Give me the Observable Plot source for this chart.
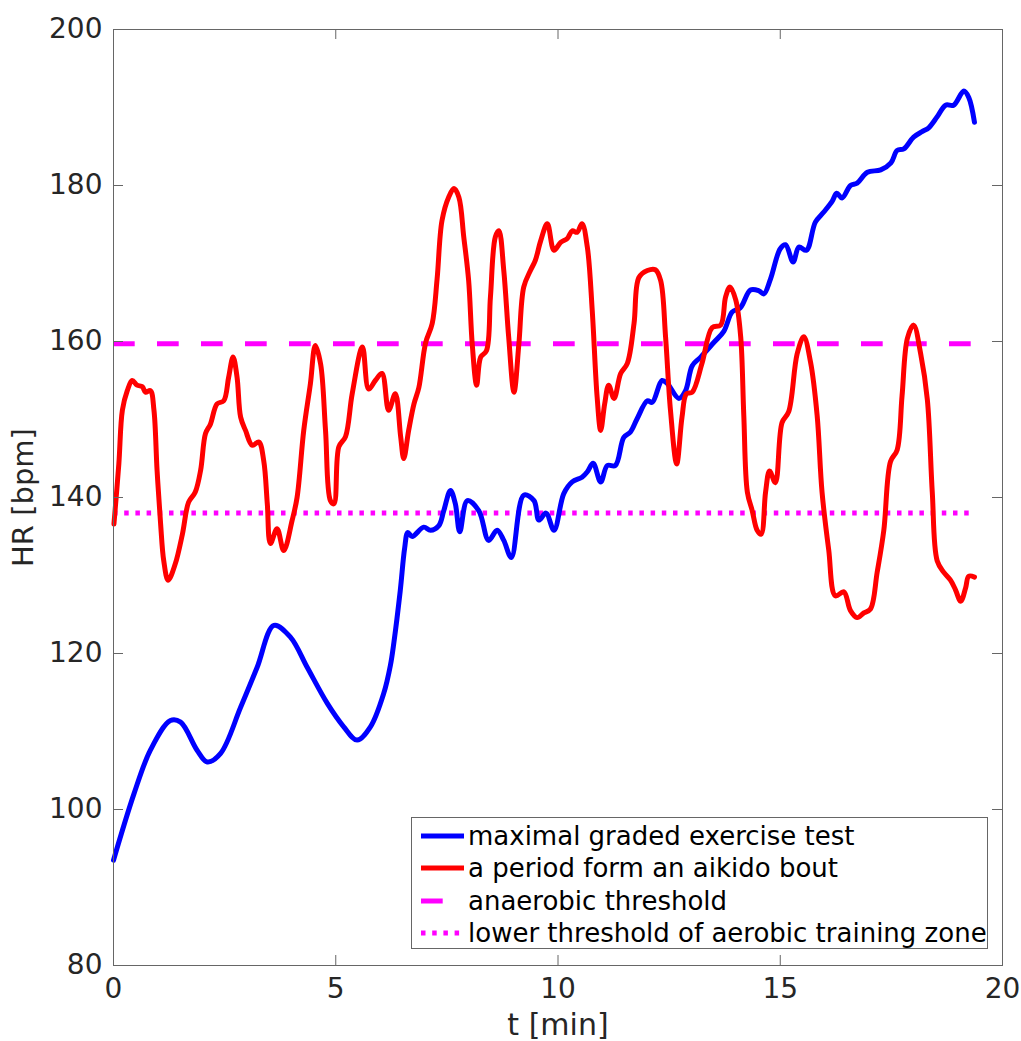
<!DOCTYPE html>
<html><head><meta charset="utf-8">
<script src="https://cdn.jsdelivr.net/npm/d3@7"></script>
<script src="https://cdn.jsdelivr.net/npm/@observablehq/plot@0.6"></script>
<style>
body{margin:0;background:#fff;font-family:"DejaVu Sans",sans-serif;}
#wrap{position:relative;width:1021px;height:1041px;}
#legend{position:absolute;left:411px;top:817px;width:577px;height:132px;border:1px solid #666;background:#fff;box-sizing:border-box;font-size:26px;color:#000;}
.row{position:absolute;left:0;height:32px;display:flex;align-items:center;white-space:nowrap;}
.row svg{margin-left:9px;margin-right:4px;}
</style></head>
<body><div id="wrap"></div>
<script>
// ---- data ----
const seriesNames = ["maximal graded exercise test","a period form an aikido bout","anaerobic threshold","lower threshold of aerobic training zone"];
const blueT = [0.00,0.46,0.83,1.28,1.51,1.88,2.11,2.41,2.86,3.23,3.61,3.98,4.36,4.81,5.18,5.48,5.78,6.08,6.23,6.31,6.45,6.55,6.62,6.72,6.98,7.13,7.32,7.43,7.58,7.69,7.79,7.96,8.22,8.44,8.63,8.78,8.95,9.23,9.46,9.57,9.73,9.91,10.13,10.32,10.54,10.66,10.79,10.96,11.11,11.29,11.48,11.63,11.78,12.01,12.12,12.34,12.46,12.72,12.87,13.02,13.21,13.51,13.73,13.92,14.10,14.33,14.52,14.63,14.78,15.00,15.12,15.29,15.42,15.59,15.79,15.98,16.17,16.27,16.39,16.58,16.73,16.96,17.26,17.49,17.63,17.78,18.00,18.19,18.34,18.53,18.72,18.90,19.13,19.24,19.37];
const blueHR = [93.5,102,107.6,111.4,111.2,107.6,106.1,107.2,113.1,118.2,123.6,122.1,118.2,113.6,110.6,108.9,110.6,114.9,118.5,121.5,128,133.5,135.5,135.0,136.2,135.8,136.4,138.3,140.9,139.2,135.6,139.6,138.3,134.5,135.8,134.5,132.3,140.3,139.6,137.1,138.0,135.8,140.5,142.0,142.6,143.3,144.4,142.0,144.1,144.1,147.7,148.4,150.1,152.4,152.2,155.0,154.6,152.7,153.7,156.9,158.0,159.9,161.3,163.8,164.3,166.6,166.5,166.1,168.0,171.9,172.4,170.2,172.1,171.7,175.3,176.6,178.0,179.0,178.4,180.0,180.3,181.7,182.0,182.9,184.5,184.7,186.2,186.9,187.4,188.8,190.3,190.3,192.1,191.3,188.1];
const redT = [0.01,0.12,0.20,0.31,0.42,0.53,0.65,0.72,0.83,0.91,0.98,1.06,1.13,1.23,1.39,1.55,1.69,1.84,1.96,2.07,2.18,2.33,2.48,2.59,2.69,2.78,2.86,2.97,3.12,3.27,3.38,3.46,3.53,3.68,3.83,4.02,4.13,4.28,4.43,4.54,4.66,4.77,4.88,4.96,5.07,5.22,5.37,5.60,5.74,5.89,6.04,6.19,6.34,6.46,6.53,6.64,6.76,6.87,7.02,7.17,7.28,7.39,7.54,7.66,7.77,7.88,7.99,8.07,8.17,8.26,8.39,8.48,8.59,8.67,8.78,8.89,9.01,9.12,9.23,9.38,9.49,9.61,9.76,9.91,10.06,10.21,10.32,10.43,10.54,10.66,10.77,10.88,10.96,11.05,11.14,11.26,11.41,11.56,11.71,11.82,12.01,12.19,12.31,12.42,12.53,12.67,12.79,12.89,13.02,13.24,13.47,13.66,13.77,13.87,14.00,14.11,14.18,14.26,14.37,14.48,14.57,14.67,14.76,14.89,15.04,15.19,15.38,15.53,15.68,15.83,15.94,16.09,16.24,16.43,16.58,16.73,16.88,17.03,17.18,17.33,17.48,17.63,17.74,17.86,18.00,18.16,18.31,18.42,18.53,18.68,18.83,18.94,19.06,19.17,19.24,19.37];
const redHR = [136.6,144.3,151.2,153.7,155.0,154.4,154.2,153.5,153.7,151.2,143.5,136.6,131.9,129.4,131.5,135.3,139.4,140.7,143.5,148.2,149.4,152.0,152.4,155.4,158.0,155.4,150.3,148.6,146.7,147.1,144.7,139.2,134.1,136.0,133.2,137.1,140.0,148.6,154.6,159.5,157.1,148.6,139.6,139.2,146.5,147.8,153.3,159.3,153.9,155.0,155.9,151.2,153.3,147.8,145.0,148.6,152.0,154.1,159.8,162.3,168.0,175.5,178.5,179.6,178.5,173.4,167.8,159.7,154.4,158.0,158.8,165.7,173.4,174.2,169.1,160.6,153.5,159.7,167.0,169.1,170.4,172.9,175.1,171.7,172.7,173.2,174.2,174.0,175.1,172.1,164.0,152.9,148.6,152.0,154.4,152.7,155.9,157.2,162.3,168.2,169.1,169.2,167.8,160.6,151.2,144.3,150.3,153.3,153.5,157.2,161.8,162.1,165.7,167.0,165.3,160.6,150.5,140.7,138.3,135.8,135.3,140.7,143.4,141.9,149.6,151.0,158.4,160.6,157.4,150.5,140.7,133.3,127.4,127.9,125.5,124.6,125.2,125.7,130.4,135.8,144.6,146.1,153.0,160.4,162.1,158.4,152.5,140.7,131.9,130.4,129.4,128.2,126.7,128.4,129.9,129.8];
const anaerobicHR = 159.7;
const aerobicLowHR = 138.0;
const xTicks = [0,5,10,15,20];
const yTicks = [80,100,120,140,160,180,200];

// ---- chart ----
const blue = blueT.map((t,i)=>({t, hr: blueHR[i]}));
const red = redT.map((t,i)=>({t, hr: redHR[i]}));
const tEnd = Math.max(blueT[blueT.length-1], redT[redT.length-1]);
const W=1021,H=1041,mL=113,mR=19,mT=29,mB=76;
const pW=W-mL-mR, pH=H-mT-mB, tick=10, axisC="#666";

const chart = Plot.plot({
  width:W, height:H, marginLeft:mL, marginRight:mR, marginTop:mT, marginBottom:mB,
  style:{fontFamily:"DejaVu Sans", fontSize:"28px", color:"#262626", background:"white"},
  x:{domain:[0,20]}, y:{domain:[80,200]},
  marks:[
    Plot.ruleY([anaerobicHR], {y:d=>d, x1:0, x2:tEnd, stroke:"#ff00ff", strokeWidth:5, strokeDasharray:"21.7,22.3"}),
    Plot.ruleY([aerobicLowHR], {y:d=>d, x1:0, x2:tEnd, stroke:"#ff00ff", strokeWidth:5, strokeDasharray:"4.5,6.7"}),
    Plot.line(blue, {x:"t", y:"hr", stroke:"#0000ff", strokeWidth:5, curve:"catmull-rom"}),
    Plot.line(red, {x:"t", y:"hr", stroke:"#ff0000", strokeWidth:5, curve:"catmull-rom"}),
    Plot.tickX(xTicks, {x:d=>d, insetTop:pH-tick, stroke:axisC}),
    Plot.tickX(xTicks, {x:d=>d, insetBottom:pH-tick, stroke:axisC}),
    Plot.tickY(yTicks, {y:d=>d, insetRight:pW-tick, stroke:axisC}),
    Plot.tickY(yTicks, {y:d=>d, insetLeft:pW-tick, stroke:axisC}),
    Plot.frame({stroke:axisC, strokeWidth:1}),
    Plot.axisX({ticks:xTicks, tickSize:0, tickPadding:13, label:null, tickFormat:d=>String(d)}),
    Plot.axisY({ticks:yTicks, tickSize:0, tickPadding:11, label:null, tickFormat:d=>String(d)}),
    Plot.text(["t [min]"], {text:d=>d, frameAnchor:"bottom", dy:69, lineAnchor:"bottom", textAnchor:"middle", fontSize:30, fill:"#262626"}),
    Plot.text(["HR [bpm]"], {text:d=>d, frameAnchor:"left", dx:-81, rotate:-90, lineAnchor:"bottom", textAnchor:"middle", fontSize:29, fill:"#262626"})
  ]
});
const wrap = document.getElementById("wrap");
wrap.appendChild(chart);

// legend
const legend = document.createElement("div");
legend.id = "legend";
const sw = [
  {stroke:"#0000ff", dash:null},
  {stroke:"#ff0000", dash:null},
  {stroke:"#ff00ff", dash:"21.7,22.3"},
  {stroke:"#ff00ff", dash:"4.5,6.7"}
];
seriesNames.forEach((name,i)=>{
  const row = document.createElement("div");
  row.className = "row";
  row.style.top = (2 + i*32.3) + "px";
  const s = d3.create("svg").attr("width",43).attr("height",10);
  s.append("line").attr("x1",0).attr("x2",43).attr("y1",5).attr("y2",5)
    .attr("stroke",sw[i].stroke).attr("stroke-width",5)
    .attr("stroke-dasharray",sw[i].dash);
  row.appendChild(s.node());
  const sp = document.createElement("span");
  sp.textContent = name;
  row.appendChild(sp);
  legend.appendChild(row);
});
wrap.appendChild(legend);
</script>
</body></html>
